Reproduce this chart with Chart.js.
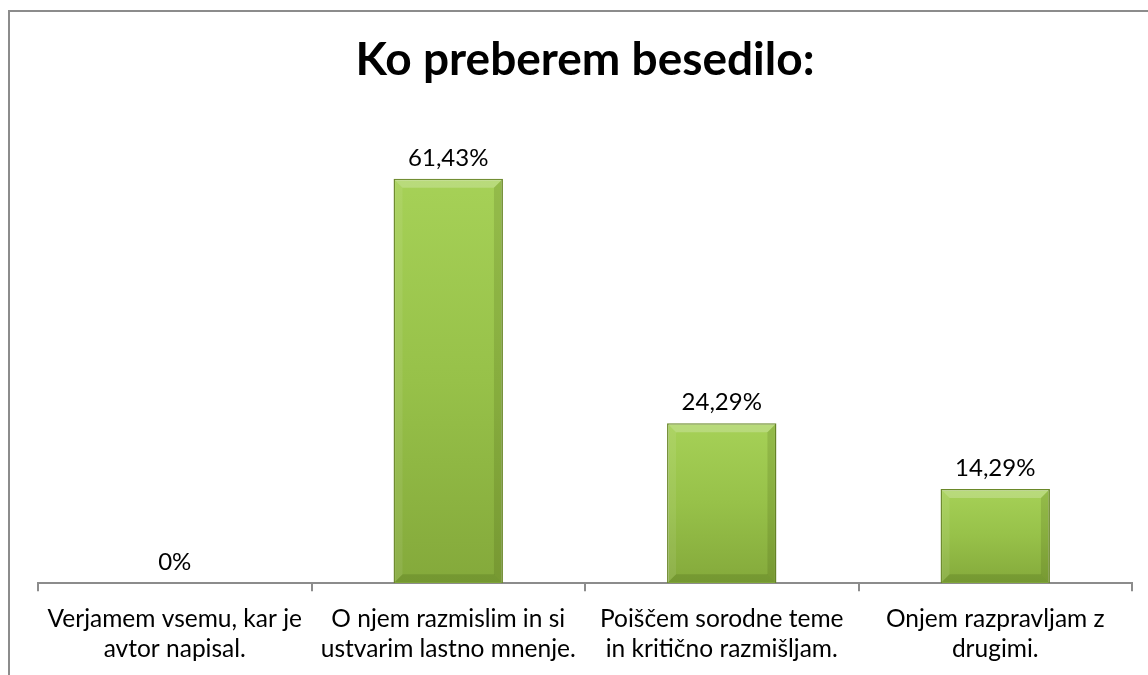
<!DOCTYPE html>
<html>
<head>
<meta charset="utf-8">
<script src="https://cdn.jsdelivr.net/npm/chart.js@4"></script>
<style>
  html, body { margin: 0; padding: 0; background: #fff; }
  #wrap { position: relative; width: 1148px; height: 675px; overflow: hidden; }
  #frame { position: absolute; left: 8px; top: 10px; width: 1200px; height: 700px;
           border-left: 2px solid #8c8c8c; border-top: 2px solid #8c8c8c; }
  canvas { position: absolute; left: 0; top: 0; }
</style>
</head>
<body>
<div id="wrap">
  <div id="frame"></div>
  <canvas id="chart" width="1148" height="688"></canvas>
</div>
<script>
const titleText = 'Ko preberem besedilo:';
const categories = [
  ['Verjamem vsemu, kar je', 'avtor napisal.'],
  ['O njem razmislim in si', 'ustvarim lastno mnenje.'],
  ['Poiščem sorodne teme', 'in kritično razmišljam.'],
  ['Onjem razpravljam z', 'drugimi.']
];
const values = [0, 61.43, 24.29, 14.29];
const valueLabels = ['0%', '61,43%', '24,29%', '14,29%'];

// bar gradient per bar, light on top
function barFill(context) {
  const chart = context.chart;
  if (!chart.chartArea) return '#98c04a';
  const y = chart.scales.y;
  const top = y.getPixelForValue(context.raw || 0);
  const base = y.getPixelForValue(0);
  if (base - top < 2) return '#98c04a';
  const g = chart.ctx.createLinearGradient(0, top, 0, base);
  g.addColorStop(0, '#a6d157');
  g.addColorStop(0.5, '#97c149');
  g.addColorStop(1, '#84a93b');
  return g;
}

// soft bevel on the bars
const bevelPlugin = {
  id: 'bevel',
  afterDatasetsDraw(chart) {
    const ctx = chart.ctx;
    const meta = chart.getDatasetMeta(0);
    const b = 8;
    ctx.save();
    meta.data.forEach(bar => {
      const w = bar.width, l = bar.x - w / 2, r = bar.x + w / 2;
      const t = bar.y, bt = bar.base;
      if (bt - t < 2 * b) return;
      const quad = (pts, col) => {
        ctx.beginPath();
        ctx.moveTo(pts[0][0], pts[0][1]);
        pts.slice(1).forEach(p => ctx.lineTo(p[0], p[1]));
        ctx.closePath();
        ctx.fillStyle = col;
        ctx.fill();
      };
      const il = l + 1, ir = r - 1, it = t + 1, ib = bt - 1;
      quad([[il, it], [ir, it], [ir - b, it + b], [il + b, it + b]], 'rgba(255,255,255,0.22)');
      quad([[il, it], [il + b, it + b], [il + b, ib - b], [il, ib]], 'rgba(255,255,255,0.08)');
      quad([[ir, it], [ir - b, it + b], [ir - b, ib - b], [ir, ib]], 'rgba(40,60,0,0.14)');
      quad([[il, ib], [il + b, ib - b], [ir - b, ib - b], [ir, ib]], 'rgba(40,60,0,0.16)');
    });
    ctx.restore();
  }
};

const valueLabelPlugin = {
  id: 'valueLabels',
  afterDatasetsDraw(chart) {
    const ctx = chart.ctx;
    const meta = chart.getDatasetMeta(0);
    ctx.save();
    ctx.font = '24px Lato';
    ctx.fillStyle = '#000';
    ctx.textAlign = 'center';
    ctx.textBaseline = 'alphabetic';
    meta.data.forEach((bar, i) => {
      ctx.fillText(valueLabels[i], bar.x, bar.y - 13);
    });
    ctx.restore();
  }
};

new Chart(document.getElementById('chart'), {
  type: 'bar',
  data: {
    labels: categories,
    datasets: [{
      data: values,
      backgroundColor: barFill,
      borderColor: '#6a8829',
      borderWidth: 1.5,
      barPercentage: 0.4,
      categoryPercentage: 1
    }]
  },
  options: {
    responsive: false,
    animation: false,
    layout: { padding: { left: 38, right: 16, top: 0, bottom: 11 } },
    plugins: {
      legend: { display: false },
      tooltip: { enabled: false },
      title: {
        display: true,
        text: titleText,
        color: '#000',
        font: { family: 'Lato', size: 46, weight: 'bold', lineHeight: 1.2 },
        padding: { top: 33, bottom: 34 }
      }
    },
    scales: {
      y: { display: false, min: 0, max: 70 },
      x: {
        offset: true,
        border: { display: true, color: '#8c8c8c', width: 2 },
        grid: { offset: true, drawOnChartArea: false, drawTicks: true, tickLength: 8, color: '#8c8c8c', lineWidth: 2 },
        ticks: {
          color: '#000',
          font: { family: 'Lato', size: 24.5, lineHeight: 1.22 },
          maxRotation: 0, autoSkip: false, padding: 13
        }
      }
    }
  },
  plugins: [bevelPlugin, valueLabelPlugin]
});
</script>
</body>
</html>
